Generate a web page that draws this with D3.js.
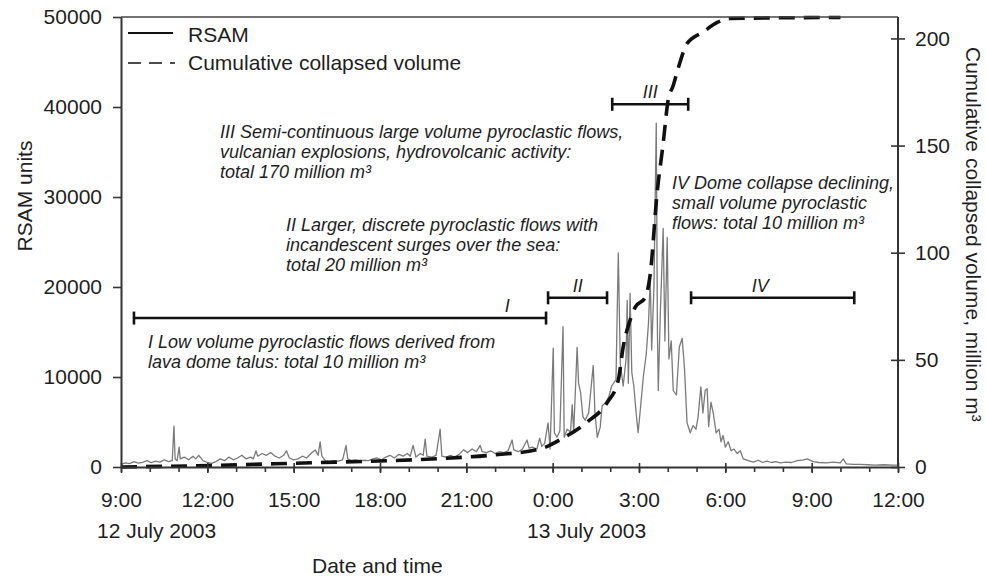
<!DOCTYPE html>
<html>
<head>
<meta charset="utf-8">
<script src="https://cdn.jsdelivr.net/npm/d3@7"></script>
<style>
  html, body { margin: 0; padding: 0; background: #fff; }
  svg { display: block; }
  text { font-family: "Liberation Sans", Arial, sans-serif; fill: #1e1e1e; }
</style>
</head>
<body>
<svg id="chart" width="986" height="576"></svg>
<script>
// RSAM record: hours after 00:00 on 12 July 2003, and RSAM units
const rsamHours = [
  9.00, 9.15, 9.30, 9.45, 9.60, 9.75, 9.90, 10.05, 10.20, 10.35, 10.50, 10.65, 10.78, 10.84, 10.88, 10.95,
  11.02, 11.06, 11.20, 11.35, 11.50, 11.60, 11.70, 11.85, 12.00, 12.15, 12.30, 12.45, 12.60, 12.75, 12.90,
  13.05, 13.20, 13.35, 13.50, 13.60, 13.69, 13.75, 13.90, 14.05, 14.20, 14.35, 14.50, 14.65, 14.75, 14.85,
  15.00, 15.15, 15.30, 15.45, 15.60, 15.75, 15.85, 15.92, 15.98, 16.10, 16.25, 16.40, 16.55, 16.70, 16.82,
  16.88, 17.00, 17.15, 17.30, 17.45, 17.60, 17.75, 17.90, 18.05, 18.20, 18.35, 18.50, 18.65, 18.80, 18.95,
  19.05, 19.15, 19.25, 19.40, 19.50, 19.57, 19.63, 19.80, 19.95, 20.09, 20.15, 20.30, 20.45, 20.60, 20.75,
  20.90, 21.05, 21.20, 21.35, 21.48, 21.55, 21.70, 21.85, 22.00, 22.15, 22.30, 22.45, 22.59, 22.65, 22.80,
  22.95, 23.11, 23.18, 23.30, 23.45, 23.55, 23.62, 23.72, 23.84, 23.91, 24.02, 24.06, 24.15, 24.25, 24.36,
  24.40, 24.50, 24.62, 24.68, 24.73, 24.85, 24.90, 24.97, 25.05, 25.13, 25.25, 25.41, 25.47, 25.55, 25.65,
  25.72, 25.85, 25.95, 26.05, 26.20, 26.28, 26.35, 26.45, 26.55, 26.59, 26.63, 26.69, 26.75, 26.82, 26.90,
  26.97, 27.05, 27.15, 27.25, 27.33, 27.39, 27.44, 27.52, 27.60, 27.64, 27.67, 27.74, 27.84, 27.90, 27.98,
  28.04, 28.12, 28.19, 28.30, 28.40, 28.50, 28.58, 28.67, 28.78, 28.88, 28.98, 29.05, 29.15, 29.22, 29.30,
  29.37, 29.42, 29.50, 29.58, 29.68, 29.78, 29.85, 29.92, 30.00, 30.10, 30.20, 30.30, 30.41, 30.52, 30.62,
  30.80, 30.97, 31.15, 31.30, 31.45, 31.60, 31.75, 31.91, 32.10, 32.30, 32.50, 32.71, 32.85, 33.05, 33.25,
  33.50, 33.75, 33.99, 34.10, 34.20, 34.45, 34.69, 34.95, 35.20, 35.50, 35.83, 36.00
];
const rsamValues = [
  300, 450, 380, 600, 420, 520, 700, 480, 650, 550, 800, 600, 700, 4550, 900, 700,
  2200, 900, 1100, 800, 1200, 900, 1300, 700, 500, 400, 600, 900, 700, 1100, 800,
  1000, 1300, 900, 1100, 900, 1800, 1200, 1500, 1300, 1600, 1200, 1000, 1300, 1800, 1000,
  800, 900, 1200, 1000, 1500, 1900, 1300, 2800, 1200, 700, 600, 700, 650, 800, 2400,
  900, 700, 800, 650, 750, 700, 900, 1000, 800, 1100, 1300, 1000, 1400, 1200, 1500,
  1200, 2400, 1100, 1500, 1300, 3100, 1200, 1100, 1300, 4200, 1200, 1100, 1300, 1100, 1400,
  1900, 1600, 2000, 1700, 2400, 1700, 1600, 1800, 1500, 1700, 1600, 1800, 3000, 1900, 1700,
  2000, 3000, 2100, 2200, 2000, 3200, 2300, 2600, 4900, 2000, 13200, 3800, 3300, 4000, 15600,
  3300, 4200, 3900, 6900, 3800, 13300, 9300, 8300, 5600, 5200, 6000, 11300, 6000, 3300, 4400,
  6800, 7200, 7800, 9000, 9700, 23800, 11500, 9000, 12000, 18500, 9300, 19300, 10500, 9000, 6000,
  3800, 6500, 10000, 12500, 16000, 21000, 13000, 20000, 38200, 15000, 8500, 17000, 26500, 14000, 25500,
  12000, 14000, 8500, 8000, 13300, 14300, 11000, 4900, 3800, 4600, 4200, 5500, 8900, 6000, 8500,
  8700, 4500, 7200, 6000, 3800, 4200, 2800, 3500, 2200, 2800, 1800, 2000, 1500, 1800, 900,
  700, 550, 750, 500, 650, 500, 600, 450, 550, 500, 700, 800, 900, 600, 500,
  450, 550, 450, 900, 350, 300, 300, 250, 200, 250, 200, 200
];

// Cumulative collapsed volume, million m3
const volumeHours = [
  9.00, 11.40, 15.67, 18.45, 20.19, 21.93, 23.56, 24.36, 25.20, 25.89, 26.28, 26.45, 26.69, 26.87,
  27.21, 27.39, 27.63, 27.84, 28.01, 28.19, 28.36, 28.67, 29.23, 29.72, 30.17, 34.00
];
const volumeValues = [
  0, 0.5, 2, 3, 4, 5.6, 8.4, 13.5, 21, 30, 40.5, 56, 68.5, 74.6,
  79, 90, 128, 151, 171, 178, 186, 197.6, 203, 207.5, 209.3, 209.8
];

// Eruption phases: start/end hours, bar level (RSAM units), label position (hours)
const phaseNames = ["I", "II", "III", "IV"];
const phaseStart = [9.45, 23.84, 26.07, 28.81];
const phaseEnd   = [23.77, 25.89, 28.71, 34.48];
const phaseLevel = [16550, 18800, 40300, 18800];
const phaseLabelHour = [22.42, 24.87, 27.39, 31.21];

// Axis ticks
const rsamTicks = [0, 10000, 20000, 30000, 40000, 50000];
const volumeTicks = [0, 50, 100, 150, 200];
const dateLabels = ["12 July 2003", "13 July 2003"];

(function draw() {
  const day0 = new Date(2003, 6, 12, 0, 0, 0);
  const toDate = h => new Date(day0.getTime() + h * 3600e3);

  const svg = d3.select("#chart");
  const mLeft = 121, mRight = 898, mTop = 17, mBottom = 467;

  const x = d3.scaleTime()
    .domain([toDate(9), toDate(36)])
    .range([mLeft, mRight]);
  const yL = d3.scaleLinear().domain([0, 50000]).range([mBottom, mTop]);
  const yR = d3.scaleLinear().domain([0, 210]).range([mBottom, mTop]);

  // RSAM trace
  const rsam = rsamHours.map((h, i) => ({ t: toDate(h), v: rsamValues[i] }));
  svg.append("path")
    .datum(rsam)
    .attr("fill", "none")
    .attr("stroke", "#7a7a7a")
    .attr("stroke-width", 1.3)
    .attr("stroke-linejoin", "round")
    .attr("d", d3.line().x(d => x(d.t)).y(d => yL(d.v)));

  // Cumulative volume (dashed)
  const vol = volumeHours.map((h, i) => ({ t: toDate(h), v: volumeValues[i] }));
  svg.append("path")
    .datum(vol)
    .attr("fill", "none")
    .attr("stroke", "#111")
    .attr("stroke-width", 3.6)
    .attr("stroke-dasharray", "16,9")
    .attr("d", d3.line().curve(d3.curveMonotoneX).x(d => x(d.t)).y(d => yR(d.v)));

  // Frame top line
  svg.append("line")
    .attr("x1", mLeft).attr("x2", mRight).attr("y1", mTop).attr("y2", mTop)
    .attr("stroke", "#444").attr("stroke-width", 1.6);

  // Axes
  const styleAxis = g => {
    g.select(".domain").attr("stroke", "#333").attr("stroke-width", 2);
    g.selectAll(".tick line").attr("stroke", "#333").attr("stroke-width", 1.6);
    g.selectAll("text").style("font-size", "21px").attr("fill", "#1e1e1e")
      .style("font-family", '"Liberation Sans", Arial, sans-serif');
  };

  const gL = svg.append("g").attr("transform", `translate(${mLeft},0)`)
    .call(d3.axisLeft(yL).tickValues(rsamTicks).tickFormat(d3.format("d")).tickSize(8).tickSizeOuter(0).tickPadding(11));
  styleAxis(gL);

  const gR = svg.append("g").attr("transform", `translate(${mRight},0)`)
    .call(d3.axisRight(yR).tickValues(volumeTicks).tickSize(7).tickSizeOuter(0).tickPadding(10));
  styleAxis(gR);
  gR.selectAll(".tick line").attr("x1", -7);
  gR.select(".domain").attr("d", `M0,${mTop}V${mBottom}`);

  // Hourly minor ticks
  const gMinor = svg.append("g").attr("transform", `translate(0,${mBottom})`)
    .call(d3.axisBottom(x).ticks(d3.timeHour.every(1)).tickSize(5).tickFormat(""));
  styleAxis(gMinor);
  gMinor.select(".domain").remove();

  const majorTicks = d3.timeHour.range(toDate(9), toDate(36.01), 3);
  const gX = svg.append("g").attr("transform", `translate(0,${mBottom})`)
    .call(d3.axisBottom(x).tickValues(majorTicks).tickFormat(d3.timeFormat("%-H:%M")).tickSize(6).tickSizeOuter(0));
  styleAxis(gX);
  gX.selectAll(".tick line").attr("y1", -4);
  gX.selectAll(".tick text").attr("y", 40).attr("dy", 0);

  // Date labels under the axis
  svg.append("text").attr("x", 97).attr("y", 538).style("font-size", "21px").text(dateLabels[0]);
  svg.append("text").attr("x", 527).attr("y", 538).style("font-size", "21px").text(dateLabels[1]);

  // Axis titles
  svg.append("text").attr("x", 312).attr("y", 573).style("font-size", "21px").text("Date and time");
  svg.append("text").attr("transform", "translate(32,196) rotate(-90)")
    .attr("text-anchor", "middle").style("font-size", "21px").text("RSAM units");
  svg.append("text").attr("transform", "translate(966,47) rotate(90)")
    .style("font-size", "21px").text("Cumulative collapsed volume, million m³");

  // Legend
  svg.append("line").attr("x1", 128).attr("x2", 173).attr("y1", 33).attr("y2", 33)
    .attr("stroke", "#111").attr("stroke-width", 2);
  svg.append("text").attr("x", 188).attr("y", 42).style("font-size", "21px").text("RSAM");
  svg.append("line").attr("x1", 128).attr("x2", 175).attr("y1", 63).attr("y2", 63)
    .attr("stroke", "#111").attr("stroke-width", 1.6).attr("stroke-dasharray", "13,8");
  svg.append("text").attr("x", 188).attr("y", 70).style("font-size", "21px").text("Cumulative collapsed volume");

  // Phase bars
  phaseNames.forEach((name, i) => {
    const g = svg.append("g");
    const x0 = x(toDate(phaseStart[i])), x1 = x(toDate(phaseEnd[i])), yy = yL(phaseLevel[i]);
    g.append("line").attr("x1", x0).attr("x2", x1).attr("y1", yy).attr("y2", yy)
      .attr("stroke", "#111").attr("stroke-width", 2.6);
    [x0, x1].forEach(xx => g.append("line").attr("x1", xx).attr("x2", xx)
      .attr("y1", yy - 6.5).attr("y2", yy + 6.5).attr("stroke", "#111").attr("stroke-width", 2.6));
    g.append("text").attr("x", x(toDate(phaseLabelHour[i]))).attr("y", yy - 6)
      .attr("text-anchor", "middle").style("font-size", "18px").style("font-style", "italic").text(name);
  });

  // Phase descriptions
  function note(x0, y0, lines) {
    const t = svg.append("text").style("font-size", "18px").style("font-style", "italic");
    lines.forEach((ln, i) => {
      t.append("tspan").attr("x", x0).attr("y", y0 + i * 20).text(ln);
    });
  }
  note(220, 138, [
    "III Semi-continuous large volume pyroclastic flows,",
    "vulcanian explosions, hydrovolcanic activity:",
    "total 170 million m³"
  ]);
  note(286, 231, [
    "II Larger, discrete pyroclastic flows with",
    "incandescent surges over the sea:",
    "total 20 million m³"
  ]);
  note(148, 348, [
    "I Low volume pyroclastic flows derived from",
    "lava dome talus: total 10 million m³"
  ]);
  note(672, 189, [
    "IV Dome collapse declining,",
    "small volume pyroclastic",
    "flows: total 10 million m³"
  ]);
})();
</script>
</body>
</html>
